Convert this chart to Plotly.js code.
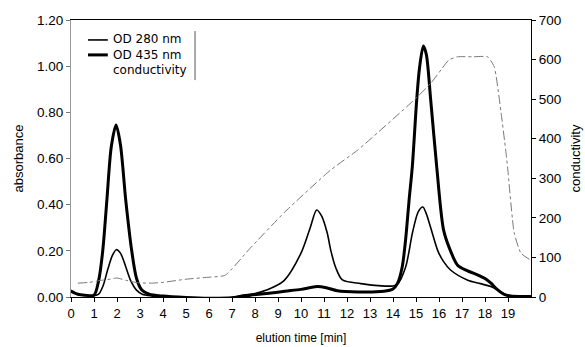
<!DOCTYPE html>
<html>
<head>
<meta charset="utf-8">
<script src="https://cdn.plot.ly/plotly-3.0.1.min.js"></script>
<style>html,body{margin:0;padding:0;background:#fff}#chart{width:585px;height:347px}</style>
</head>
<body>
<div id="chart"></div>
<script>
// elution time [min]
var od280_x = [0, 0.3, 0.6, 1.0, 1.2, 1.4, 1.6, 1.8, 1.97, 2.15, 2.35, 2.6, 2.85, 3.1, 3.5, 4, 5, 6, 7, 7.5, 8, 8.5, 9.25, 10.0, 10.4, 10.68, 10.9, 11.14, 11.3, 11.5, 11.8, 12.6, 13.5, 14.0, 14.19, 14.55, 14.85, 15.1, 15.3, 15.45, 15.64, 15.95, 16.2, 16.5, 17.25, 17.8, 18.25, 18.6, 18.9, 19.3, 20];
var od280_y = [0.03, 0.012, 0.007, 0.006, 0.012, 0.05, 0.12, 0.18, 0.205, 0.19, 0.14, 0.07, 0.03, 0.012, 0.005, 0.002, -0.004, -0.006, -0.002, 0.008, 0.015, 0.03, 0.07, 0.19, 0.30, 0.377, 0.35, 0.277, 0.2, 0.13, 0.074, 0.058, 0.048, 0.048, 0.055, 0.13, 0.28, 0.37, 0.39, 0.36, 0.30, 0.20, 0.153, 0.117, 0.073, 0.058, 0.045, 0.028, 0.01, 0.003, 0.002];

var od435_x = [0, 0.3, 0.6, 1.0, 1.2, 1.38, 1.56, 1.75, 1.96, 2.15, 2.38, 2.64, 2.85, 3.08, 3.4, 4, 5, 6, 7, 7.8, 8.5, 9.3, 10.0, 10.7, 11.1, 11.58, 12.5, 13.6, 14.0, 14.2, 14.4, 14.55, 14.7, 14.84, 15.03, 15.15, 15.32, 15.45, 15.64, 15.9, 16.2, 16.5, 16.8, 17.2, 17.7, 18.0, 18.26, 18.5, 18.8, 19.1, 20];
var od435_y = [0.025, 0.012, 0.008, 0.008, 0.07, 0.2, 0.42, 0.65, 0.745, 0.66, 0.42, 0.2, 0.08, 0.03, 0.012, 0.004, -0.002, -0.005, -0.003, 0.008, 0.015, 0.025, 0.033, 0.045, 0.04, 0.027, 0.022, 0.025, 0.035, 0.06, 0.13, 0.25, 0.42, 0.565, 0.853, 0.99, 1.087, 1.05, 0.853, 0.565, 0.29, 0.2, 0.139, 0.115, 0.095, 0.08, 0.06, 0.035, 0.013, 0.004, 0.002];

var cond_x = [0.3, 0.8, 1.3, 1.7, 2.0, 2.4, 2.9, 3.5, 4.0, 5.0, 6.0, 6.7, 7.8, 9.3, 11.29, 12.46, 14.92, 15.64, 16.1, 16.43, 16.8, 17.5, 18.11, 18.4, 18.7, 18.9, 18.98, 19.27, 19.56, 19.99];
var cond_y = [35, 37, 42, 45, 48, 42, 36, 35, 37, 45, 50, 55, 124, 215, 321, 371, 498, 540, 575, 599, 607, 607, 607, 582, 465, 371, 329, 162, 111, 93];

var xTickVals = [0,1,2,3,4,5,6,7,8,9,10,11,12,13,14,15,16,17,18,19];
var yTickVals = [0, 0.2, 0.4, 0.6, 0.8, 1.0, 1.2];
var yTickText = ["0.00", "0.20", "0.40", "0.60", "0.80", "1.00", "1.20"];
var y2TickVals = [0, 100, 200, 300, 400, 500, 600, 700];
var legendNames = ["OD 280 nm", "OD 435 nm", "conductivity"];

var FONT = "Liberation Sans, Arial, sans-serif";

var traces = [
  {x: od280_x, y: od280_y, name: legendNames[0], type: "scatter", mode: "lines",
   line: {color: "#000", width: 1.6, shape: "spline", smoothing: 0.8}, yaxis: "y"},
  {x: od435_x, y: od435_y, name: legendNames[1], type: "scatter", mode: "lines",
   line: {color: "#000", width: 3, shape: "spline", smoothing: 0.8}, yaxis: "y"},
  {x: cond_x, y: cond_y, name: legendNames[2], type: "scatter", mode: "lines",
   line: {color: "#777", width: 1, dash: "dashdot", shape: "spline", smoothing: 0.5}, yaxis: "y2"}
];

var layout = {
  width: 585, height: 347,
  margin: {l: 71, r: 54, t: 20, b: 50},
  paper_bgcolor: "#fff", plot_bgcolor: "#fff",
  showlegend: false,
  font: {family: FONT, size: 13, color: "#000"},
  xaxis: {
    range: [0, 20], tickvals: xTickVals, ticktext: xTickVals.map(String),
    showgrid: false, zeroline: false, showline: true, linecolor: "#000", linewidth: 1,
    ticks: "outside", ticklen: 4, tickcolor: "#000",
    mirror: true,
    title: {text: "elution time [min]", font: {size: 12}, standoff: 14},
    tickfont: {size: 13}
  },
  yaxis: {
    range: [0, 1.2], tickvals: yTickVals, ticktext: yTickText,
    showgrid: false, zeroline: false, showline: true, linecolor: "#999", linewidth: 1,
    ticks: "outside", ticklen: 4, tickcolor: "#777",
    title: {text: "absorbance", font: {size: 13}, standoff: 10},
    tickfont: {size: 13.5}
  },
  yaxis2: {
    range: [0, 700], tickvals: y2TickVals, overlaying: "y", side: "right",
    showgrid: false, zeroline: false, showline: true, linecolor: "#000", linewidth: 1,
    ticks: "outside", ticklen: 4, tickcolor: "#000",
    title: {text: "conductivity", font: {size: 13}, standoff: 10},
    tickfont: {size: 13.5}
  },
  shapes: [
    {type: "line", xref: "paper", yref: "paper", x0: 0.037, x1: 0.080, y0: 0.928, y1: 0.928, line: {color: "#000", width: 1.6}},
    {type: "line", xref: "paper", yref: "paper", x0: 0.037, x1: 0.080, y0: 0.874, y1: 0.874, line: {color: "#000", width: 3}},
    {type: "line", xref: "paper", yref: "paper", x0: 0.2696, x1: 0.2696, y0: 0.783, y1: 0.960, line: {color: "#555", width: 1}}
  ],
  annotations: [
    {xref: "paper", yref: "paper", x: 0.089, y: 0.962, text: legendNames.join("<br>"), showarrow: false,
     xanchor: "left", yanchor: "top", align: "left", borderpad: 0,
     font: {family: "DejaVu Sans, sans-serif", size: 12}}
  ]
};

Plotly.newPlot("chart", traces, layout, {staticPlot: true, displayModeBar: false});
</script>
</body>
</html>
